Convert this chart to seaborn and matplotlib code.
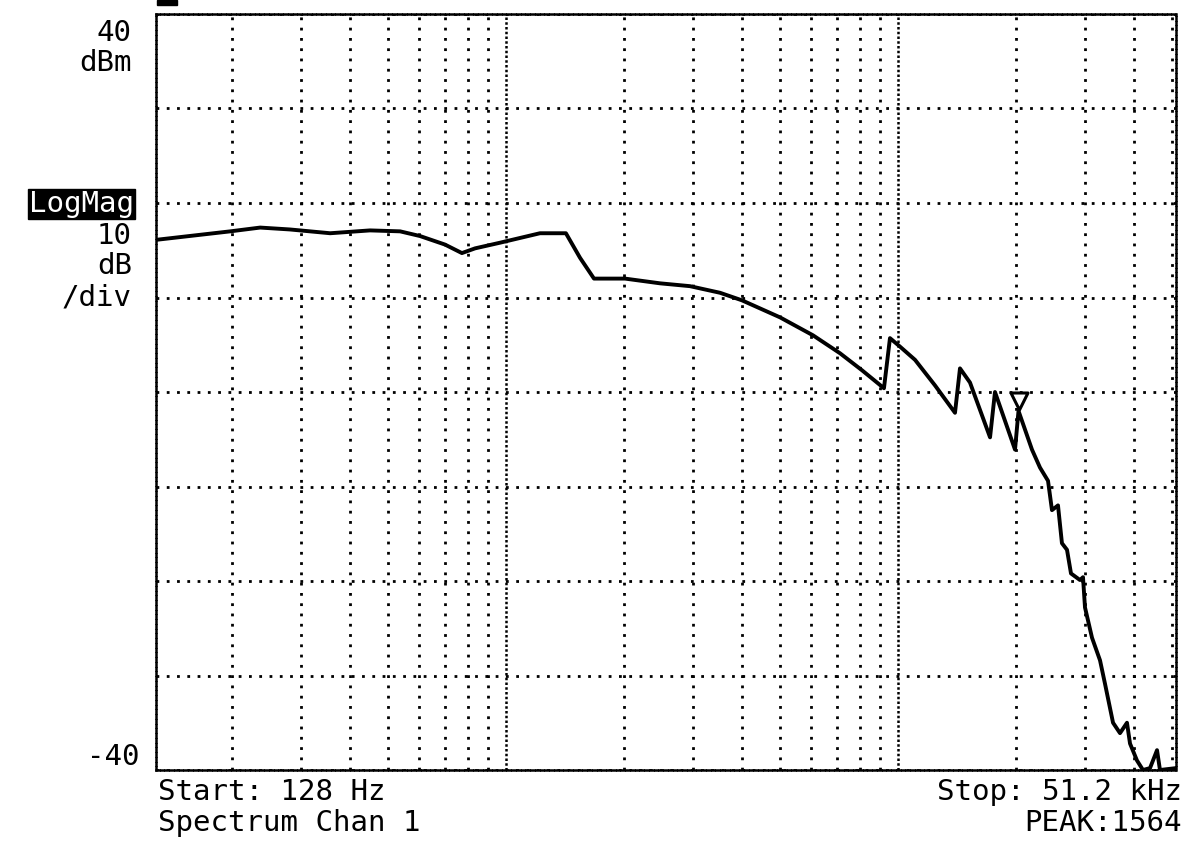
import matplotlib
matplotlib.use("Agg")
import matplotlib.pyplot as plt
import seaborn as sns
import pandas as pd
from matplotlib.ticker import FixedLocator, NullFormatter

# trace values (frequency in Hz, level in dBm)
freq_hz = [128, 198, 236, 281, 356, 450, 537, 604, 699, 772, 834, 966, 1086,
           1221, 1422, 1545, 1677, 2012, 2472, 2947, 3516, 4000, 5001, 6070,
           7114, 8095, 9210, 9541, 10121, 11056, 12429, 13979, 14395, 15267,
           17175, 17680, 19888, 20300, 21974, 23032, 24143, 24710, 25600,
           26200, 26990, 27630, 29130, 29650, 30000, 31260, 32770, 33750,
           35370, 36850, 38390, 39080, 40720, 42170, 43950, 45800, 46600,
           51200]
level_db = [16.1, 17.0, 17.4, 17.2, 16.8, 17.1, 17.0, 16.5, 15.6, 14.7, 15.2,
            15.8, 16.3, 16.8, 16.8, 14.2, 12.0, 12.0, 11.5, 11.2, 10.5, 9.7,
            7.9, 6.0, 4.1, 2.3, 0.4, 5.7, 4.8, 3.4, 0.7, -2.2, 2.5, 1.0, -4.8,
            0.0, -6.1, -2.0, -6.1, -8.0, -9.4, -12.5, -12.0, -16.0, -16.7,
            -19.2, -19.9, -19.6, -22.8, -26.0, -28.4, -30.9, -35.0, -36.1,
            -35.0, -37.2, -39.0, -40.0, -39.8, -37.9, -40.0, -39.8]

marker_hz = [20350]
marker_db = [-1.0]

decade_lines = [1000, 10000]
minor_lines = [200, 300, 400, 500, 600, 700, 800, 900,
               2000, 3000, 4000, 5000, 6000, 7000, 8000, 9000,
               20000, 30000, 40000, 50000]
y_lines = [-40, -30, -20, -10, 0, 10, 20, 30, 40]

W, H = 1182, 844
sns.set_style("white")
plt.rcParams["font.family"] = ["DejaVu Sans Mono", "DejaVu Sans"]

fig = plt.figure(figsize=(W / 100, H / 100), dpi=100)
ax = fig.add_axes([156 / W, (H - 770) / H, 1020 / W, 756 / H])

df = pd.DataFrame({"freq": freq_hz, "level": level_db})
sns.lineplot(data=df, x="freq", y="level", ax=ax, color="black",
             linewidth=2.8, estimator=None, sort=False)
sns.scatterplot(x=marker_hz, y=marker_db, ax=ax, marker="v", s=150,
                facecolor="white", edgecolor="black", linewidth=2.2, zorder=5)

ax.set_xscale("log")
ax.set_xlim(128, 51200)
ax.set_ylim(-40, 40)
ax.xaxis.set_major_locator(FixedLocator(decade_lines))
ax.xaxis.set_minor_locator(FixedLocator(minor_lines))
ax.xaxis.set_major_formatter(NullFormatter())
ax.xaxis.set_minor_formatter(NullFormatter())
ax.yaxis.set_major_locator(FixedLocator(y_lines))
ax.yaxis.set_major_formatter(NullFormatter())
ax.tick_params(which="both", length=0)
ax.set_xlabel("")
ax.set_ylabel("")

# dotted screen graticule; decade lines are denser
ax.grid(True, which="major", axis="x", color="black",
        linestyle=(0, (1, 0.9)), linewidth=1.8)
ax.grid(True, which="minor", axis="x", color="black",
        linestyle=(0, (1, 2.7)), linewidth=2.0)
ax.grid(True, which="major", axis="y", color="black",
        linestyle=(0, (1, 2.7)), linewidth=2.0)
for sp in ax.spines.values():
    sp.set_visible(True)
    sp.set_color("black")
    sp.set_linestyle((0, (1, 0.9)))
    sp.set_linewidth(1.8)


def px(x, y):
    return x / W, 1 - y / H


fs = 21
kw = dict(fontsize=fs, color="black")
fig.text(*px(132, 33), "40", ha="right", va="center", **kw)
fig.text(*px(132, 63), "dBm", ha="right", va="center", **kw)
fig.text(*px(134, 204), "LogMag", ha="right", va="center", color="white",
         bbox=dict(boxstyle="square,pad=0.05", facecolor="black",
                   edgecolor="black"), fontsize=21)
fig.text(*px(132, 236), "10", ha="right", va="center", **kw)
fig.text(*px(132, 266), "dB", ha="right", va="center", **kw)
fig.text(*px(132, 298), "/div", ha="right", va="center", **kw)
fig.text(*px(140, 757), "-40", ha="right", va="center", **kw)

fig.text(*px(158, 792), "Start: 128 Hz", ha="left", va="center", **kw)
fig.text(*px(158, 823), "Spectrum Chan 1", ha="left", va="center", **kw)
fig.text(*px(1182, 792), "Stop: 51.2 kHz", ha="right", va="center", **kw)
fig.text(*px(1182, 823), "PEAK:1564", ha="right", va="center", **kw)

fig.patches.append(plt.Rectangle(px(157, 5), 20 / W, 5 / H, color="black",
                                 transform=fig.transFigure, figure=fig))

fig.savefig("out.png", dpi=100, facecolor="white")
